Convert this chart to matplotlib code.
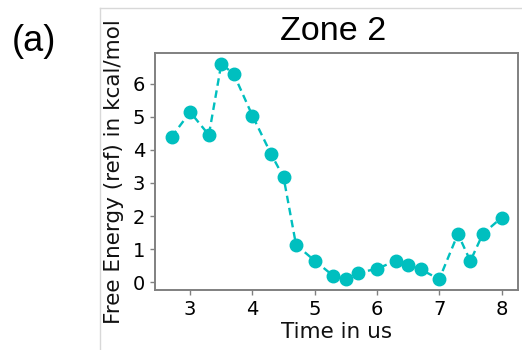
import matplotlib
matplotlib.use("Agg")
import matplotlib.pyplot as plt
from matplotlib.lines import Line2D

time_us = [2.7, 3.0, 3.3, 3.5, 3.7, 4.0, 4.3, 4.5, 4.7, 5.0, 5.3, 5.5, 5.7,
           6.0, 6.3, 6.5, 6.7, 7.0, 7.3, 7.5, 7.7, 8.0]
free_energy = [4.39, 5.14, 4.45, 6.60, 6.29, 5.03, 3.87, 3.17, 1.13, 0.65, 0.19,
               0.10, 0.29, 0.40, 0.65, 0.52, 0.39, 0.09, 1.46, 0.64, 1.46, 1.95]
x_ticks = [3, 4, 5, 6, 7, 8]
y_ticks = [0, 1, 2, 3, 4, 5, 6]

W, H = 522, 350
fig = plt.figure(figsize=(W / 100, H / 100), dpi=100)
ax = fig.add_axes([155 / W, (H - 290) / H, (518 - 155) / W, (290 - 53) / H])

ax.plot(time_us, free_energy, linestyle="--", color="c", marker="o",
        markersize=9, linewidth=1.7, dashes=(3.2, 2.0))

ax.set_xticks(x_ticks)
ax.set_yticks(y_ticks)
for s in ax.spines.values():
    s.set_color("#808080")
    s.set_linewidth(1.4)
ax.tick_params(colors="#808080", labelcolor="black", labelsize=14, length=3.5, width=1.0)

ax.set_xlabel("Time in us", fontsize=15.5, color="#111111")
ax.set_ylabel("Free Energy (ref) in kcal/mol", fontsize=15.5, color="#111111")
ax.yaxis.set_label_coords(-0.085, 0.5)
ax.xaxis.set_label_coords(0.5, -0.135)

fig.text(333 / W, 1 - 40 / H, "Zone 2", fontsize=24.5, family="Liberation Sans",
         ha="center", va="baseline")
fig.text(12 / W, 1 - 51 / H, "(a)", fontsize=26, family="Liberation Sans",
         ha="left", va="baseline")

# outer light border of the panel
fig.add_artist(Line2D([100 / W, 1.0], [1 - 8 / H, 1 - 8 / H], color="#d8d8d8", linewidth=1.0))
fig.add_artist(Line2D([100 / W, 100 / W], [0, 1 - 8 / H], color="#d8d8d8", linewidth=1.0))

fig.savefig("out.png", dpi=100)
